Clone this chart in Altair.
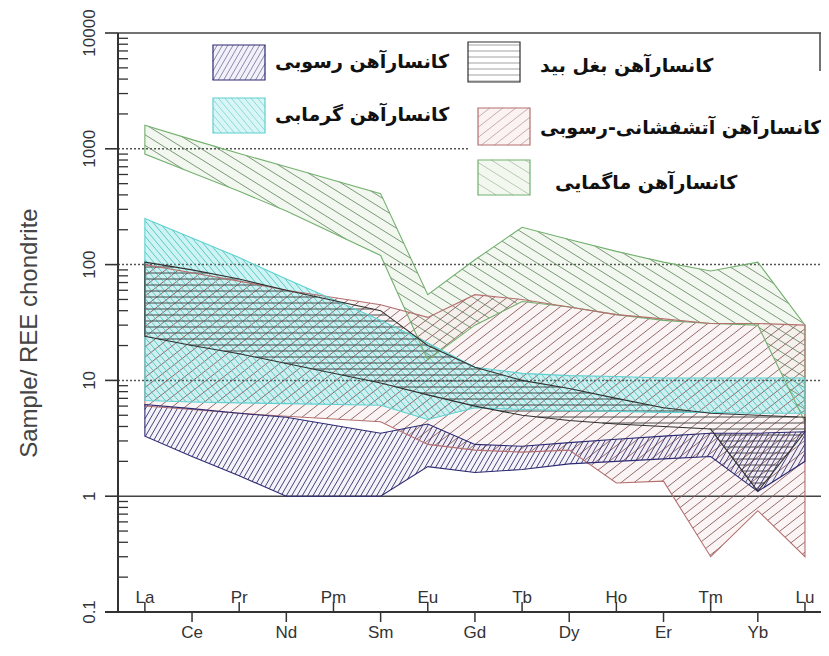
import altair as alt
import pandas as pd
import numpy as np

# ---------------- data ----------------
elements = ["La", "Ce", "Pr", "Nd", "Pm", "Sm", "Eu", "Gd", "Tb", "Dy", "Ho", "Er", "Tm", "Yb", "Lu"]
ree = ["La", "Ce", "Pr", "Nd", "Sm", "Eu", "Gd", "Tb", "Dy", "Ho", "Er", "Tm", "Yb", "Lu"]

magmatic_upper = [1600, 1200, 910, 700, 410, 55, 110, 210, 165, 130, 105, 88, 105, 30]
magmatic_lower = [900, 620, 430, 290, 120, 15, 30, 48, 43, 37, 33, 31, 30, 4.4]

volcsed_upper = [100, 85, 72, 60, 45, 35, 55, 50, 43, 37, 34, 31, 31, 30]
volcsed_lower = [6.0, 5.6, 5.2, 4.9, 4.4, 2.8, 2.5, 2.4, 2.5, 1.3, 1.35, 0.3, 0.75, 0.3]

hydro_upper = [250, 170, 115, 75, 33, 21, 13, 11.5, 11, 10.8, 10.5, 10.5, 10.5, 10.5]
hydro_lower = [6.7, 6.5, 6.4, 6.3, 6.1, 4.6, 5.8, 5.6, 5.5, 5.4, 5.3, 5.3, 5.2, 5.2]

baghleh_upper = [105, 90, 75, 60, 40, 20, 13, 10, 8.5, 7.0, 5.8, 5.2, 5.0, 4.8]
baghleh_lower = [24, 20, 17, 14, 9.5, 7.5, 6.0, 5.0, 4.5, 4.2, 4.0, 3.8, 1.1, 3.6]

sed_upper = [6.2, 5.7, 5.2, 4.8, 3.5, 4.2, 2.8, 2.7, 2.9, 3.1, 3.3, 3.5, 3.5, 3.6]
sed_lower = [3.3, 2.2, 1.5, 1.0, 1.0, 1.8, 1.6, 1.7, 1.9, 2.0, 2.1, 2.2, 1.1, 2.0]

legend_labels = ["کانسارآهن رسوبی", "کانسارآهن بغل بید", "کانسارآهن گرمابی",
                 "کانسارآهن آتشفشانی-رسوبی", "کانسارآهن ماگمایی"]

y_major = [0.1, 1, 10, 100, 1000, 10000]
y_major_labels = ["0.1", "1", "10", "100", "1000", "10000"]
y_title = "Sample/ REE chondrite"

# ---------------- layout / styles ----------------
W, H = 703, 579
X0 = 0.43
PXU = 47.15                      # pixels per element step
X1 = X0 + W / PXU
LOGMIN, LOGMAX = -1, 4
FONT = "Liberation Sans"
XFONT = "Liberation Sans Narrow, Liberation Sans"
AX = "#333"

styles = {
    # name: (hatch angle, spacing, hatch colour, outline colour, fill, fill opacity)
    "magmatic": (-32, 9.0, "#6f8c6c", "#73b06e", "#e8f3e2", 0.55),
    "volcsed": (38, 8.0, "#8a5c5c", "#b56f6f", "#f7e6e6", 0.45),
    "hydro": (-50, 5.0, "#4fc4c4", "#5fd0d0", "#b4ecec", 0.65),
    "baghleh": (0, 6.0, "#3a3a3a", "#303030", "#ffffff", 0.0),
    "sed": (60, 4.6, "#34306a", "#2c2a72", "#e2def0", 0.35),
}

envelopes = {
    "magmatic": (magmatic_upper, magmatic_lower),
    "volcsed": (volcsed_upper, volcsed_lower),
    "hydro": (hydro_upper, hydro_lower),
    "baghleh": (baghleh_upper, baghleh_lower),
    "sed": (sed_upper, sed_lower),
}
order = ["magmatic", "volcsed", "hydro", "baghleh", "sed"]


def pos(el):
    return elements.index(el) + 1


def to_sx(x):
    return (np.asarray(x, float) - X0) / (X1 - X0) * W


def to_sy(v):
    return (LOGMAX - np.log10(np.asarray(v, float))) / (LOGMAX - LOGMIN) * H


def from_sx(sx):
    return X0 + np.asarray(sx, float) / W * (X1 - X0)


def from_sy(sy):
    return 10 ** (LOGMAX - np.asarray(sy, float) / H * (LOGMAX - LOGMIN))


def hatch(xs, up, lo, angle, spacing, name):
    sx = to_sx(xs)
    su = to_sy(up)
    sl = to_sy(lo)
    grid = np.arange(sx[0], sx[-1], 0.4)
    grid = np.append(grid, sx[-1])
    U = np.interp(grid, sx, su)
    L = np.interp(grid, sx, sl)
    m = -np.tan(np.radians(angle))
    step = spacing / abs(np.cos(np.radians(angle)))
    cu = U - m * grid
    cl = L - m * grid
    cmin, cmax = cu.min(), cl.max()
    start = np.floor(cmin / step) * step
    rows = []
    n = len(grid)
    for c in np.arange(start, cmax + step, step):
        line = m * grid + c
        h = np.minimum(line - U, L - line)
        inside = h >= 0
        if not inside.any():
            continue
        d = np.diff(inside.astype(int))
        starts = list(np.where(d == 1)[0] + 1)
        ends = list(np.where(d == -1)[0])
        if inside[0]:
            starts = [0] + starts
        if inside[-1]:
            ends = ends + [n - 1]
        for i, j in zip(starts, ends):
            if i == 0:
                xa = grid[0]
            else:
                t = h[i - 1] / (h[i - 1] - h[i])
                xa = grid[i - 1] + t * (grid[i] - grid[i - 1])
            if j == n - 1:
                xb = grid[-1]
            else:
                t = h[j] / (h[j] - h[j + 1])
                xb = grid[j] + t * (grid[j + 1] - grid[j])
            if xb - xa < 0.3 and m != 0:
                continue
            ya, yb = m * xa + c, m * xb + c
            rows.append({"g": name, "x": float(from_sx(xa)), "y": float(from_sy(ya)),
                         "x2": float(from_sx(xb)), "y2": float(from_sy(yb))})
    return rows


xs_env = [pos(e) for e in ree]

xsc = alt.Scale(domain=[X0, X1], nice=False, zero=False)
ysc = alt.Scale(type="log", domain=[0.1, 10000], nice=False)
gdom = order
hatch_rng = [styles[g][2] for g in order]


def X(f):
    return alt.X(f, scale=xsc, axis=None)


def Y(f):
    return alt.Y(f, scale=ysc, axis=None)


# fills + outlines
fill_layers, outline_layers = [], []
for g in order:
    up, lo = envelopes[g]
    df = pd.DataFrame({"x": xs_env, "up": up, "lo": lo})
    ang, sp, hc, oc, fc, fo = styles[g]
    if fo > 0:
        fill_layers.append(
            alt.Chart(df).mark_area(fill=fc, fillOpacity=fo, strokeWidth=0).encode(
                x=X("x:Q"), y=Y("up:Q"), y2="lo:Q"))
    outline_layers.append(
        alt.Chart(df).mark_area(fill="transparent", stroke=oc, strokeWidth=1.1).encode(
            x=X("x:Q"), y=Y("up:Q"), y2="lo:Q"))

# hatch rows for envelopes
hrows = []
for g in order:
    up, lo = envelopes[g]
    ang, sp = styles[g][0], styles[g][1]
    hrows += hatch(xs_env, up, lo, ang, sp, g)

# legend swatches (pixel layout converted to data space)
legend_items = [
    ("sed", 213, 265, 45, 80, 275, 62),
    ("baghleh", 468, 520, 42, 82, 540, 66),
    ("hydro", 213, 265, 98, 133, 275, 115),
    ("volcsed", 478, 530, 108, 145, 540, 128),
    ("magmatic", 478, 530, 160, 195, 555, 183),
]
OX, OY = 118, 33
sw_rows, txt_rows = [], []
for (g, x1, x2, y1, y2, tx, ty), lab in zip(legend_items, legend_labels):
    xa, xb = from_sx(x1 - OX), from_sx(x2 - OX)
    va, vb = from_sy(y1 - OY), from_sy(y2 - OY)
    sw_rows.append({"g": g, "x": float(xa), "x2": float(xb), "y": float(va), "y2": float(vb)})
    hrows += hatch([xa, xb], [va, va], [vb, vb], styles[g][0], styles[g][1], g)
    txt_rows.append({"x": float(from_sx(tx - OX)), "y": float(from_sy(ty - OY)), "t": lab})

hdf = pd.DataFrame(hrows)
swdf = pd.DataFrame(sw_rows)
txdf = pd.DataFrame(txt_rows)

color_h = alt.Color("g:N", scale=alt.Scale(domain=gdom, range=hatch_rng), legend=None)

hatch_layer = alt.Chart(hdf).mark_rule(strokeWidth=0.9).encode(
    x=X("x:Q"), x2="x2:Q", y=Y("y:Q"), y2="y2:Q", color=color_h)

sw_fill = alt.Chart(swdf).mark_rect(strokeWidth=1.2).encode(
    x=X("x:Q"), x2="x2:Q", y=Y("y:Q"), y2="y2:Q",
    fill=alt.Fill("g:N", scale=alt.Scale(domain=gdom, range=[styles[g][4] for g in gdom]), legend=None),
    fillOpacity=alt.FillOpacity("g:N", scale=alt.Scale(domain=gdom, range=[styles[g][5] for g in gdom]), legend=None),
    stroke=alt.Stroke("g:N", scale=alt.Scale(domain=gdom, range=[styles[g][3] for g in gdom]), legend=None))

sw_text = alt.Chart(txdf).mark_text(align="left", baseline="middle", font="DejaVu Sans",
                                    fontWeight="bold", fontSize=19, color="#111").encode(
    x=X("x:Q"), y=Y("y:Q"), text="t:N")

# ---------------- grid & frame ----------------
grid_dot = alt.Chart(pd.DataFrame({"v": [10, 100]})).mark_rule(
    color="#555", strokeDash=[2, 2], strokeWidth=1.5).encode(
    y=Y("v:Q"), x=alt.value(0), x2=alt.value(W))
grid_1000 = alt.Chart(pd.DataFrame({"v": [1000]})).mark_rule(
    color="#555", strokeDash=[2, 2], strokeWidth=1.5).encode(
    y=Y("v:Q"), x=alt.value(0), x2=alt.value(352))
top_df = pd.DataFrame({"v": [10000]})
top_line = alt.Chart(top_df).mark_rule(color="#444", strokeWidth=1.5).encode(
    y=Y("v:Q"), x=alt.value(0), x2=alt.value(W))
right_line = alt.Chart(top_df).mark_rule(color="#444", strokeWidth=1.5).encode(
    y=Y("v:Q"), x=alt.value(W - 1), y2=alt.value(38))
one_line = alt.Chart(pd.DataFrame({"v": [1]})).mark_rule(color="#444", strokeWidth=1.5).encode(
    y=Y("v:Q"), x=alt.value(0), x2=alt.value(W))

# ---------------- hand-drawn axes ----------------
ymaj_df = pd.DataFrame({"v": y_major, "lab": y_major_labels})
y_domain = alt.Chart(ymaj_df).mark_rule(color=AX, strokeWidth=1.6).encode(
    x=alt.value(0), y=alt.value(0), y2=alt.value(H))
y_ticks = alt.Chart(ymaj_df).mark_rule(color=AX, strokeWidth=1.6).encode(
    y=Y("v:Q"), x=alt.value(-13), x2=alt.value(0))
y_labels = alt.Chart(ymaj_df).mark_text(font=FONT, fontSize=17, color=AX, angle=270,
                                        align="center", baseline="bottom").encode(
    y=Y("v:Q"), x=alt.value(-19), text="lab:N")
y_title_mark = alt.Chart(pd.DataFrame({"t": [y_title]})).mark_text(
    font=FONT, fontSize=24, color="#444", angle=270, align="center", baseline="middle").encode(
    x=alt.value(-88), y=alt.value(300), text="t:N")

minor_vals = [m * 10 ** k for k in range(-1, 4) for m in range(2, 10)]
minor = alt.Chart(pd.DataFrame({"v": minor_vals})).mark_rule(color=AX, strokeWidth=1.3).encode(
    y=Y("v:Q"), x=alt.value(0), x2=alt.value(10))

el_df = pd.DataFrame({"p": list(range(1, len(elements) + 1)), "name": elements})
odd_df = el_df[el_df.p % 2 == 1]
even_df = el_df[el_df.p % 2 == 0]

x_domain = alt.Chart(odd_df).mark_rule(color=AX, strokeWidth=1.6).encode(
    y=alt.value(H), x=alt.value(-13), x2=alt.value(W))
odd_ticks = alt.Chart(odd_df).mark_rule(color=AX, strokeWidth=1.5).encode(
    x=X("p:Q"), y=alt.value(H - 10), y2=alt.value(H))
odd_text = alt.Chart(odd_df).mark_text(font=XFONT, fontSize=17, color=AX,
                                       baseline="alphabetic", align="center").encode(
    x=X("p:Q"), y=alt.value(H - 9), text="name:N")
even_ticks = alt.Chart(even_df).mark_rule(color=AX, strokeWidth=1.5).encode(
    x=X("p:Q"), y=alt.value(H), y2=alt.value(H + 10))
even_text = alt.Chart(even_df).mark_text(font=XFONT, fontSize=17, color=AX,
                                         baseline="top", align="center").encode(
    x=X("p:Q"), y=alt.value(H + 13), text="name:N")

chart = alt.layer(
    *fill_layers, grid_dot, grid_1000, one_line, top_line, right_line,
    hatch_layer, *outline_layers, sw_fill, sw_text,
    minor, y_domain, y_ticks, y_labels, y_title_mark,
    x_domain, odd_ticks, odd_text, even_ticks, even_text
).properties(
    width=W, height=H,
    autosize=alt.AutoSizeParams(type="none"),
    padding={"left": 110, "top": 25, "right": 0, "bottom": 36},
).configure_view(stroke=None)

chart.save("out.html", embed_options={"renderer": "svg", "actions": False})
